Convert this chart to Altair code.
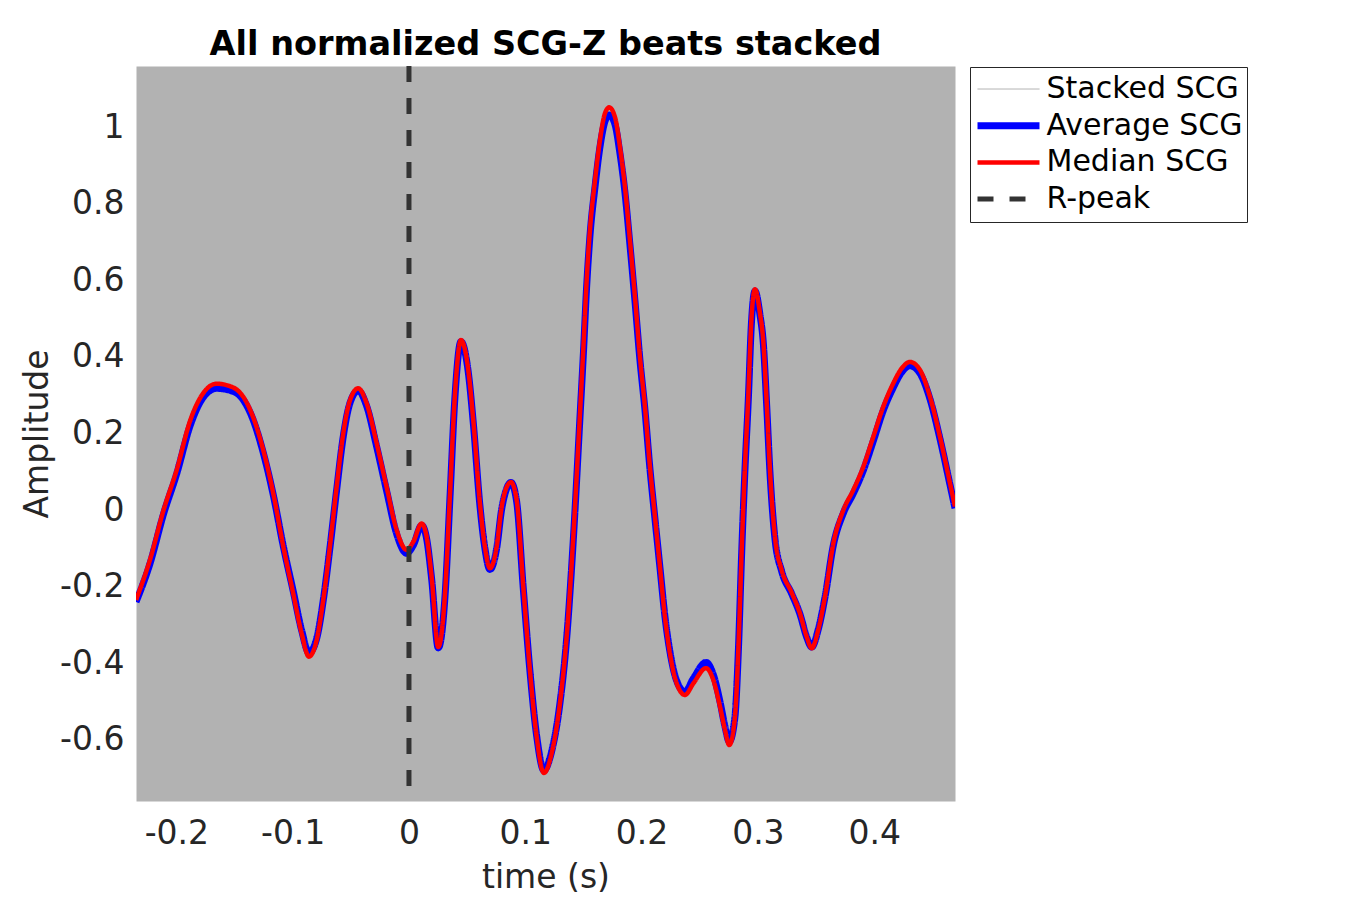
import altair as alt
import pandas as pd

time_s = [-0.2347, -0.2227, -0.211, -0.1998, -0.188, -0.177, -0.1654, -0.151, -0.1425, -0.134,
          -0.1253, -0.1167, -0.108, -0.0995, -0.0923, -0.086, -0.0794, -0.0737, -0.068, -0.0622,
          -0.0565, -0.0507, -0.0436, -0.0364, -0.0278, -0.0192, -0.0106, -0.002, 0.0037, 0.0109,
          0.0152, 0.0195, 0.0252, 0.031, 0.0353, 0.0396, 0.0447, 0.051, 0.0553, 0.061,
          0.0653, 0.0696, 0.0754, 0.0797, 0.084, 0.0877, 0.0926, 0.0983, 0.104, 0.1098,
          0.116, 0.1227, 0.1298, 0.1356, 0.1413, 0.147, 0.150, 0.1528, 0.1556, 0.16,
          0.1642, 0.1685, 0.1722, 0.1771, 0.1814, 0.1857, 0.19, 0.1943, 0.1986, 0.2029,
          0.2072, 0.2115, 0.2158, 0.2201, 0.2244, 0.2302, 0.2373, 0.2445, 0.2554, 0.2617,
          0.2674, 0.2717, 0.2754, 0.2803, 0.2832, 0.2861, 0.2889, 0.2918, 0.2945, 0.2975,
          0.3018, 0.3047, 0.3076, 0.3104, 0.3147, 0.3205, 0.329, 0.3362, 0.342, 0.3463,
          0.3519, 0.3577, 0.3649, 0.3735, 0.382, 0.3906, 0.3992, 0.4078, 0.4164, 0.4236,
          0.4308, 0.4394, 0.448, 0.4566, 0.4652, 0.4695]

median_scg = [-0.235, -0.13, 0.0, 0.104, 0.235, 0.305, 0.33, 0.32, 0.296, 0.243,
              0.157, 0.044, -0.096, -0.218, -0.322, -0.383, -0.34, -0.235, -0.096, 0.06,
              0.2, 0.287, 0.318, 0.279, 0.175, 0.06, -0.052, -0.104, -0.083, -0.035,
              -0.07, -0.175, -0.358, -0.218, 0.044, 0.305, 0.444, 0.366, 0.235, 0.018,
              -0.096, -0.152, -0.096, 0.008, 0.06, 0.073, 0.026, -0.2, -0.418, -0.592,
              -0.687, -0.635, -0.505, -0.331, -0.07, 0.25, 0.426, 0.6, 0.731, 0.862,
              0.966, 1.036, 1.052, 1.027, 0.949, 0.844, 0.705, 0.557, 0.4, 0.27,
              0.113, -0.017, -0.148, -0.279, -0.374, -0.453, -0.483, -0.453, -0.413, -0.444,
              -0.513, -0.574, -0.614, -0.54, -0.366, -0.104, 0.113, 0.3, 0.5, 0.577,
              0.514, 0.44, 0.28, 0.104, -0.07, -0.157, -0.215, -0.27, -0.331, -0.361,
              -0.313, -0.226, -0.087, 0.0, 0.052, 0.113, 0.191, 0.27, 0.331, 0.37,
              0.387, 0.366, 0.296, 0.191, 0.07, 0.009]

average_scg = [-0.24, -0.14, -0.01, 0.094, 0.222, 0.294, 0.318, 0.31, 0.288, 0.236,
               0.15, 0.04, -0.095, -0.212, -0.314, -0.373, -0.336, -0.236, -0.1, 0.052,
               0.192, 0.28, 0.312, 0.272, 0.166, 0.05, -0.062, -0.113, -0.092, -0.04,
               -0.075, -0.18, -0.36, -0.225, 0.035, 0.298, 0.44, 0.36, 0.228, 0.012,
               -0.1, -0.155, -0.1, 0.002, 0.056, 0.072, 0.022, -0.205, -0.42, -0.59,
               -0.68, -0.63, -0.505, -0.335, -0.078, 0.24, 0.41, 0.585, 0.715, 0.845,
               0.948, 1.015, 1.032, 1.008, 0.932, 0.83, 0.693, 0.547, 0.392, 0.262,
               0.108, -0.022, -0.15, -0.278, -0.37, -0.446, -0.475, -0.44, -0.398, -0.43,
               -0.5, -0.565, -0.605, -0.54, -0.37, -0.11, 0.105, 0.29, 0.49, 0.572,
               0.51, 0.435, 0.272, 0.098, -0.075, -0.16, -0.218, -0.272, -0.332, -0.358,
               -0.312, -0.228, -0.092, -0.008, 0.043, 0.103, 0.18, 0.26, 0.32, 0.36,
               0.377, 0.357, 0.29, 0.186, 0.066, 0.005]

rpeak_time = [0.0]

series_names = ["Stacked SCG", "Average SCG", "Median SCG", "R-peak"]
series_colors = ["#a8a8a8", "#0000ff", "#ff0000", "#333333"]
series_widths = [1, 7, 4.5, 5]
series_dashes = [[1, 0], [1, 0], [1, 0], [16, 16]]

x_ticks = [-0.2, -0.1, 0, 0.1, 0.2, 0.3, 0.4]
y_ticks = [-0.6, -0.4, -0.2, 0, 0.2, 0.4, 0.6, 0.8, 1]

FONT = "DejaVu Sans"

avg_df = pd.DataFrame({"t": time_s, "v": average_scg, "series": "Average SCG"})
med_df = pd.DataFrame({"t": time_s, "v": median_scg, "series": "Median SCG"})
rpk_df = pd.DataFrame({"t": rpeak_time, "series": ["R-peak"]})

x_enc = alt.X(
    "t:Q",
    scale=alt.Scale(domain=[-0.2347, 0.4695], nice=False, zero=False),
    axis=alt.Axis(
        values=x_ticks, title="time (s)", labelExpr="'' + datum.value",
        domain=False, ticks=False, tickSize=0, grid=False,
        labelFont=FONT, labelFontSize=33, labelColor="#262626",
        labelPadding=42, labelBaseline="alphabetic", labelFlush=False, labelOverlap=False,
        titleFont=FONT, titleFontSize=33, titleFontWeight="normal", titleColor="#262626",
        titleX=409.5, titleY=86, titleBaseline="alphabetic", titleAlign="center",
    ),
)
y_enc = alt.Y(
    "v:Q",
    scale=alt.Scale(domain=[-0.76, 1.16], nice=False, zero=False),
    axis=alt.Axis(
        values=y_ticks, title="Amplitude", labelExpr="'' + datum.value",
        domain=False, ticks=False, tickSize=0, grid=False,
        labelFont=FONT, labelFontSize=33, labelColor="#262626",
        labelPadding=12, labelOverlap=False, labelFlush=False,
        titleFont=FONT, titleFontSize=33, titleFontWeight="normal", titleColor="#262626",
        titleAngle=270, titleX=-99, titleY=367.5, titleBaseline="middle", titleAlign="center",
    ),
)

legend_spec = alt.Legend(orient="none", legendX=834, legendY=1)

color_enc = alt.Color(
    "series:N", title=None,
    scale=alt.Scale(domain=series_names, range=series_colors),
    legend=legend_spec,
)
width_enc = alt.StrokeWidth(
    "series:N", title=None,
    scale=alt.Scale(type="ordinal", domain=series_names, range=series_widths),
    legend=legend_spec,
)
dash_enc = alt.StrokeDash(
    "series:N", title=None,
    scale=alt.Scale(domain=series_names, range=series_dashes),
    legend=legend_spec,
)

avg_line = alt.Chart(avg_df).mark_line(interpolate="monotone", clip=True).encode(
    x=x_enc, y=y_enc, color=color_enc, strokeWidth=width_enc, strokeDash=dash_enc
)
med_line = alt.Chart(med_df).mark_line(interpolate="monotone", clip=True).encode(
    x=x_enc, y=y_enc, color=color_enc, strokeWidth=width_enc, strokeDash=dash_enc
)
rpeak = alt.Chart(rpk_df).mark_rule().encode(
    x=x_enc, color=color_enc, strokeWidth=width_enc, strokeDash=dash_enc
)

chart = (
    alt.layer(avg_line, med_line, rpeak)
    .properties(
        width=819,
        height=735,
        autosize=alt.AutoSizeParams(type="none"),
        padding={"left": 128, "top": 58, "right": 310, "bottom": 105},
        title=alt.TitleParams(
            text="All normalized SCG-Z beats stacked",
            font=FONT, fontSize=33.5, fontWeight="bold", color="black",
            anchor="middle", baseline="alphabetic", offset=11, frame="group", dy=36,
        ),
    )
    .configure_view(fill="#b2b2b2", stroke="transparent")
    .configure_legend(
        symbolType="stroke", symbolSize=3844, labelFont=FONT, labelFontSize=30,
        labelColor="black", labelLimit=400, labelOffset=3.5, padding=4, rowPadding=0.7,
        clipHeight=36, strokeColor="#262626", fillColor="white", symbolOffset=0,
    )
)

chart.save("out.html", embed_options={"renderer": "svg", "actions": False})
